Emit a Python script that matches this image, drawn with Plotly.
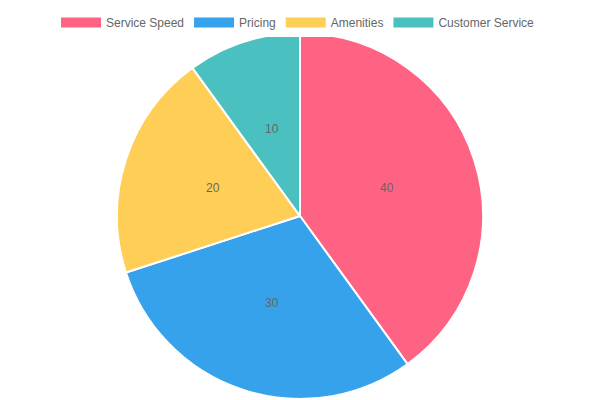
import math
import plotly.graph_objects as go

# data
labels = ['Service Speed', 'Pricing', 'Amenities', 'Customer Service']
values = [40, 30, 20, 10]
colors = ['#FF6384', '#36A2EB', '#FFCE56', '#4BC0C0']

W, H = 600, 400
OFF = 8          # page body margin in the browser
CX, CY = 300 - OFF, 216 - OFF   # pie centre in figure pixels
R = 183

fig = go.Figure()
fig.add_trace(go.Pie(
    labels=labels,
    values=values,
    sort=False,
    direction='clockwise',
    rotation=0,
    marker=dict(colors=colors, line=dict(color='#ffffff', width=2)),
    textinfo='none',
    domain=dict(x=[0, 2 * CX / W], y=[1 - (CY + R) / H, 1 - (CY - R) / H]),
    hoverinfo='label+value',
    showlegend=False,
))

# legend entries as wide boxes (Chart.js style)
for lab, col in zip(labels, colors):
    fig.add_trace(go.Scatter(x=[None], y=[None], mode='lines', name=lab,
                             line=dict(color=col, width=10), hoverinfo='skip'))

# value labels at half radius, middle of each slice
total = sum(values)
cum = 0
annotations = []
for v in values:
    mid = (cum + v / 2) / total * 2 * math.pi
    cum += v
    px_ = CX + 0.5 * R * math.sin(mid)
    py_ = CY - 0.5 * R * math.cos(mid)
    annotations.append(dict(x=px_ / W, y=1 - py_ / H, xref='paper', yref='paper',
                            xanchor='center', yanchor='middle',
                            text=str(v), showarrow=False,
                            font=dict(size=12, color='#666666')))

fig.update_layout(
    width=W, height=H,
    margin=dict(l=0, r=0, t=0, b=0),
    paper_bgcolor='white',
    plot_bgcolor='white',
    font=dict(family='Liberation Sans, Arial, sans-serif', color='#666666', size=12),
    xaxis=dict(visible=False),
    yaxis=dict(visible=False),
    annotations=annotations,
    legend=dict(orientation='h', x=(298 - OFF) / W, xanchor='center',
                y=1, yanchor='top', itemwidth=40,
                font=dict(size=12, color='#666666'), traceorder='normal'),
)

fig.write_html('out.html')
